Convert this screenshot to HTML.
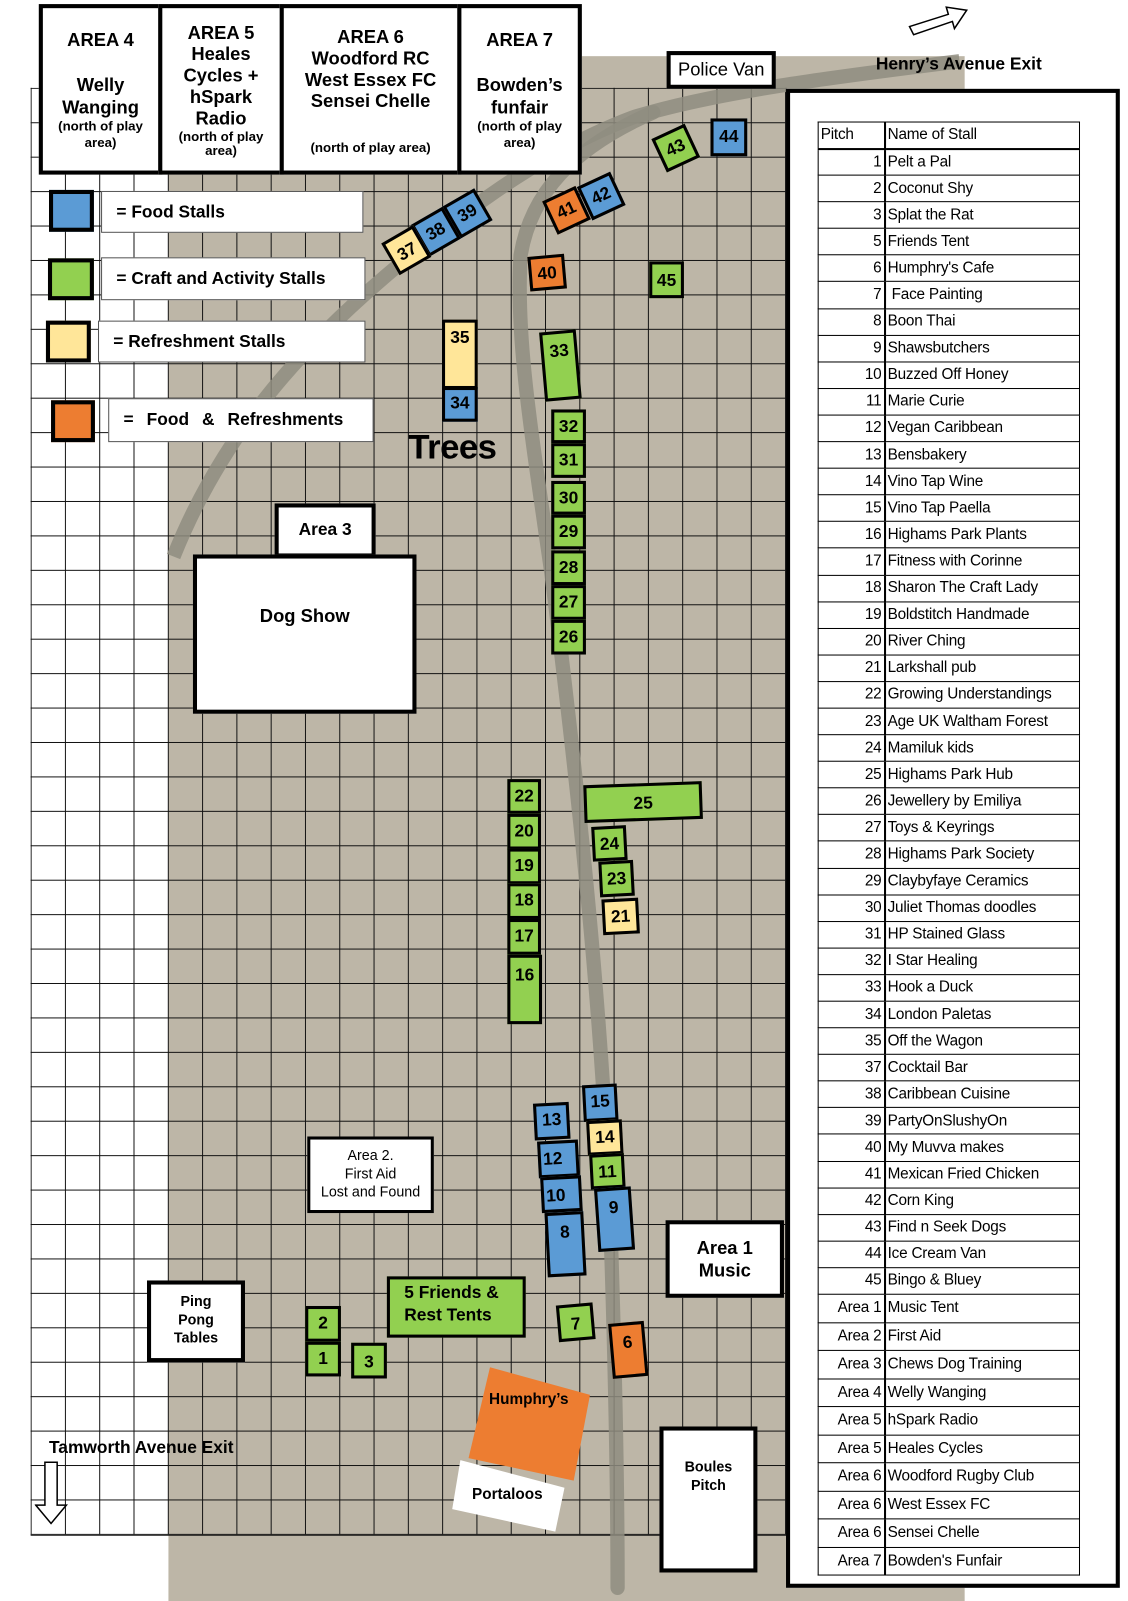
<!DOCTYPE html>
<html><head><meta charset="utf-8"><style>
*{margin:0;padding:0;box-sizing:border-box}
html,body{width:1128px;height:1601px;overflow:hidden;background:#fff}
#w{position:absolute;left:0;top:0;width:1105px;height:1568px;transform-origin:0 0;transform:scale(1.0208,1.0211);font-family:"Liberation Sans",sans-serif}
.a{position:absolute}
.bx{position:absolute;background:#fff;border:4px solid #000;text-align:center;font-weight:bold;color:#000}
.s{position:absolute;border:3px solid #000;font-weight:bold;font-size:17px;text-align:center;line-height:22px;color:#000}
.B{background:#5b9bd5}.G{background:#92d050}.Y{background:#ffe699}.O{background:#ed7d31}
.lg{position:absolute;background:#fff;border:1px solid #555;font-weight:bold;font-size:17px;padding-left:14px;line-height:40px}
.sq{position:absolute;border:4px solid #000}
table{border-collapse:collapse;position:absolute;left:801px;top:119px;width:257px;font-size:15px;letter-spacing:-0.2px}
td{border:1px solid #000;height:26.1px;padding:0 2px;white-space:nowrap;line-height:20px}
td:first-child{width:65px;text-align:right;border-right:2px solid #000}
tr.h td{border-bottom:2px solid #000;text-align:left;height:26px}
tr.ar td{height:27.5px}
</style></head><body><div id="w">
<div class="a" style="left:165px;top:55px;width:780px;height:1513px;background:#bdb6a7"></div>
<div class="a" style="left:30px;top:86px;width:741px;height:1418px;background-image:linear-gradient(to right,#111 1px,transparent 1px),linear-gradient(to bottom,#111 1px,transparent 1px);background-size:33.6px 33.73px;border-right:1px solid #111;border-bottom:1px solid #111"></div>
<svg class="a" style="left:0;top:0" width="1105" height="1568">
<path d="M940 60 C820 75 700 90 620 115 C540 145 470 195 390 260 C300 335 220 420 170 545" stroke="#8f8d80" stroke-width="14" fill="none" opacity="0.85"/>
<path d="M640 110 C560 145 520 190 510 250 C505 330 520 420 540 560 C570 800 590 1000 598 1200 C603 1350 605 1450 605 1555" stroke="#8f8d80" stroke-width="14" fill="none" stroke-linecap="round" opacity="0.85"/>
</svg>

<div class="bx" style="left:38px;top:4px;width:121px;height:167px;font-size:18px;padding-top:20px;line-height:22px">AREA 4<br><br>Welly<br>Wanging<br><span style="font-size:13px;line-height:16px;display:block">(north of play area)</span></div>
<div class="bx" style="left:155px;top:4px;width:123px;height:167px;font-size:18px;padding-top:14px;line-height:21px;overflow:hidden">AREA 5<br>Heales<br>Cycles +<br>hSpark<br>Radio<br><span style="font-size:13px;line-height:14px;display:block">(north of play area)</span></div>
<div class="bx" style="left:274px;top:4px;width:178px;height:167px;font-size:18px;padding-top:18px;line-height:21px">AREA 6<br>Woodford RC<br>West Essex FC<br>Sensei Chelle<br><span style="font-size:13px;display:block;margin-top:24px">(north of play area)</span></div>
<div class="bx" style="left:448px;top:4px;width:122px;height:167px;font-size:18px;padding-top:20px;line-height:22px">AREA 7<br><br>Bowden’s<br>funfair<br><span style="font-size:13px;line-height:16px;display:block">(north of play area)</span></div>

<div class="sq B" style="left:48px;top:186px;width:44px;height:41px"></div>
<div class="sq G" style="left:47px;top:253px;width:45px;height:41px"></div>
<div class="sq Y" style="left:45px;top:314px;width:44px;height:41px"></div>
<div class="sq O" style="left:50px;top:392px;width:43px;height:41px"></div>
<div class="lg" style="left:99px;top:187px;width:257px;height:41px">= Food Stalls</div>
<div class="lg" style="left:99px;top:252px;width:259px;height:42px">= Craft and Activity Stalls</div>
<div class="lg" style="left:96px;top:314px;width:262px;height:41px">= Refreshment Stalls</div>
<div class="lg" style="left:106px;top:390px;width:260px;height:43px;word-spacing:8px">= Food &amp; Refreshments</div>

<div class="bx" style="left:653px;top:50px;width:107px;height:37px;font-size:18px;font-weight:normal;line-height:29px">Police Van</div>
<div class="a" style="left:858px;top:53px;font-weight:bold;font-size:17px">Henry’s Avenue Exit</div>
<svg class="a" style="left:885px;top:2px" width="70" height="40"><path d="M6 24 L44 12 L42 5 L62 8 L50 26 L48 19 L10 32 Z" fill="#fff" stroke="#000" stroke-width="1.5"/></svg>

<div class="a" style="left:770px;top:87px;width:327px;height:1468px;border:4px solid #000;background:#fff"></div>
<table>
<tr class="h"><td style="text-align:left">Pitch</td><td>Name of Stall</td></tr>
<tr><td>1</td><td>Pelt a Pal</td></tr><tr><td>2</td><td>Coconut Shy</td></tr><tr><td>3</td><td>Splat the Rat</td></tr><tr><td>5</td><td>Friends Tent</td></tr><tr><td>6</td><td>Humphry's Cafe</td></tr><tr><td>7</td><td>&nbsp;Face Painting</td></tr><tr><td>8</td><td>Boon Thai</td></tr><tr><td>9</td><td>Shawsbutchers</td></tr><tr><td>10</td><td>Buzzed Off Honey</td></tr><tr><td>11</td><td>Marie Curie</td></tr><tr><td>12</td><td>Vegan Caribbean</td></tr><tr><td>13</td><td>Bensbakery</td></tr><tr><td>14</td><td>Vino Tap Wine</td></tr><tr><td>15</td><td>Vino Tap Paella</td></tr><tr><td>16</td><td>Highams Park Plants</td></tr><tr><td>17</td><td>Fitness with Corinne</td></tr><tr><td>18</td><td>Sharon The Craft Lady</td></tr><tr><td>19</td><td>Boldstitch Handmade</td></tr><tr><td>20</td><td>River Ching</td></tr><tr><td>21</td><td>Larkshall pub</td></tr><tr><td>22</td><td>Growing Understandings</td></tr><tr><td>23</td><td>Age UK Waltham Forest</td></tr><tr><td>24</td><td>Mamiluk kids</td></tr><tr><td>25</td><td>Highams Park Hub</td></tr><tr><td>26</td><td>Jewellery by Emiliya</td></tr><tr><td>27</td><td>Toys &amp; Keyrings</td></tr><tr><td>28</td><td>Highams Park Society</td></tr><tr><td>29</td><td>Claybyfaye Ceramics</td></tr><tr><td>30</td><td>Juliet Thomas doodles</td></tr><tr><td>31</td><td>HP Stained Glass</td></tr><tr><td>32</td><td>I Star Healing</td></tr><tr><td>33</td><td>Hook a Duck</td></tr><tr><td>34</td><td>London Paletas</td></tr><tr><td>35</td><td>Off the Wagon</td></tr><tr><td>37</td><td>Cocktail Bar</td></tr><tr><td>38</td><td>Caribbean Cuisine</td></tr><tr><td>39</td><td>PartyOnSlushyOn</td></tr><tr><td>40</td><td>My Muvva makes</td></tr><tr><td>41</td><td>Mexican Fried Chicken</td></tr><tr><td>42</td><td>Corn King</td></tr><tr><td>43</td><td>Find n Seek Dogs</td></tr><tr><td>44</td><td>Ice Cream Van</td></tr><tr><td>45</td><td>Bingo &amp; Bluey</td></tr>
<tr class="ar"><td>Area 1</td><td>Music Tent</td></tr><tr class="ar"><td>Area 2</td><td>First Aid</td></tr><tr class="ar"><td>Area 3</td><td>Chews Dog Training</td></tr><tr class="ar"><td>Area 4</td><td>Welly Wanging</td></tr><tr class="ar"><td>Area 5</td><td>hSpark Radio</td></tr><tr class="ar"><td>Area 5</td><td>Heales Cycles</td></tr><tr class="ar"><td>Area 6</td><td>Woodford Rugby Club</td></tr><tr class="ar"><td>Area 6</td><td>West Essex FC</td></tr><tr class="ar"><td>Area 6</td><td>Sensei Chelle</td></tr><tr class="ar"><td>Area 7</td><td>Bowden's Funfair</td></tr>
</table>

<div class="s B" style="left:696px;top:116px;width:36px;height:37px;padding-top:4px">44</div>
<div class="s G" style="left:644px;top:127px;width:36px;height:36px;padding-top:4px;transform:rotate(-25deg)">43</div>
<div class="s B" style="left:571px;top:174px;width:36px;height:36px;padding-top:4px;transform:rotate(-25deg)">42</div>
<div class="s O" style="left:537px;top:188px;width:36px;height:36px;padding-top:4px;transform:rotate(-25deg)">41</div>
<div class="s B" style="left:440px;top:191px;width:36px;height:36px;padding-top:4px;transform:rotate(-30deg)">39</div>
<div class="s B" style="left:409px;top:209px;width:36px;height:36px;padding-top:4px;transform:rotate(-30deg)">38</div>
<div class="s Y" style="left:380px;top:227px;width:36px;height:36px;padding-top:6px;transform:rotate(-30deg)">37</div>
<div class="s O" style="left:518px;top:250px;width:36px;height:34px;padding-top:4px;transform:rotate(-5deg)">40</div>
<div class="s G" style="left:636px;top:256px;width:34px;height:36px;padding-top:5px">45</div>
<div class="s Y" style="left:433px;top:313px;width:35px;height:68px;padding-top:4px">35</div>
<div class="s B" style="left:433px;top:379px;width:35px;height:34px;padding-top:2px">34</div>
<div class="s G" style="left:531px;top:324px;width:36px;height:68px;padding-top:6px;transform:rotate(-5deg)">33</div>
<div class="s G" style="left:540px;top:401px;width:34px;height:33px;padding-top:3px">32</div>
<div class="s G" style="left:540px;top:434px;width:34px;height:34px;padding-top:3px">31</div>
<div class="s G" style="left:540px;top:471px;width:34px;height:33px;padding-top:3px">30</div>
<div class="s G" style="left:540px;top:504px;width:34px;height:34px;padding-top:3px">29</div>
<div class="s G" style="left:540px;top:539px;width:34px;height:34px;padding-top:3px">28</div>
<div class="s G" style="left:540px;top:573px;width:34px;height:34px;padding-top:3px">27</div>
<div class="s G" style="left:540px;top:607px;width:34px;height:34px;padding-top:3px">26</div>
<div class="a" style="left:400px;top:419px;font-size:34px;font-weight:bold;letter-spacing:-0.5px">Trees</div>

<div class="bx" style="left:269px;top:493px;width:99px;height:53px;line-height:44px;font-size:17px">Area 3</div>
<div class="bx" style="left:189px;top:543px;width:219px;height:156px;font-size:18px;padding-top:46px">Dog Show</div>

<div class="s G" style="left:497px;top:763px;width:33px;height:34px;padding-top:3px">22</div>
<div class="s G" style="left:497px;top:797px;width:33px;height:35px;padding-top:3px">20</div>
<div class="s G" style="left:497px;top:831px;width:33px;height:35px;padding-top:3px">19</div>
<div class="s G" style="left:497px;top:865px;width:33px;height:35px;padding-top:3px">18</div>
<div class="s G" style="left:497px;top:900px;width:33px;height:35px;padding-top:3px">17</div>
<div class="s G" style="left:497px;top:935px;width:34px;height:68px;padding-top:6px">16</div>
<div class="s G" style="left:572px;top:767px;width:116px;height:37px;padding-top:6px;transform:rotate(-2deg)">25</div>
<div class="s G" style="left:580px;top:809px;width:34px;height:34px;padding-top:4px;transform:rotate(-3deg)">24</div>
<div class="s G" style="left:587px;top:843px;width:34px;height:35px;padding-top:4px;transform:rotate(-3deg)">23</div>
<div class="s Y" style="left:590px;top:880px;width:36px;height:35px;padding-top:4px;transform:rotate(-3deg)">21</div>

<div class="s B" style="left:523px;top:1080px;width:35px;height:36px;padding-top:3px;transform:rotate(-3deg)">13</div>
<div class="s B" style="left:571px;top:1062px;width:34px;height:36px;padding-top:3px;transform:rotate(-3deg)">15</div>
<div class="s Y" style="left:575px;top:1097px;width:35px;height:34px;padding-top:3px;transform:rotate(-3deg)">14</div>
<div class="s B" style="left:527px;top:1117px;width:40px;height:36px;padding-top:4px;text-align:left;padding-left:2px;transform:rotate(-3deg)">12</div>
<div class="s G" style="left:578px;top:1130px;width:34px;height:34px;padding-top:4px;transform:rotate(-3deg)">11</div>
<div class="s B" style="left:530px;top:1152px;width:40px;height:35px;padding-top:5px;text-align:left;padding-left:2px;transform:rotate(-3deg)">10</div>
<div class="s B" style="left:584px;top:1163px;width:36px;height:62px;padding-top:6px;transform:rotate(-4deg)">9</div>
<div class="s B" style="left:535px;top:1187px;width:38px;height:63px;padding-top:6px;transform:rotate(-3deg)">8</div>

<div class="bx" style="left:301px;top:1113px;width:124px;height:75px;font-size:14px;font-weight:normal;line-height:18px;padding-top:6px;border-width:3px">Area 2.<br>First Aid<br>Lost and Found</div>
<div class="bx" style="left:652px;top:1195px;width:116px;height:76px;font-size:18px;line-height:22px;padding-top:12px">Area 1<br>Music</div>
<div class="bx" style="left:144px;top:1254px;width:96px;height:80px;font-size:14px;line-height:18px;padding-top:7px">Ping<br>Pong<br>Tables</div>

<div class="s G" style="left:299px;top:1279px;width:35px;height:35px;padding-top:3px">2</div>
<div class="s G" style="left:299px;top:1314px;width:35px;height:34px;padding-top:3px">1</div>
<div class="s G" style="left:344px;top:1315px;width:35px;height:35px;padding-top:5px">3</div>
<div class="s G" style="left:379px;top:1250px;width:136px;height:60px;text-align:left;padding-left:14px;padding-top:2px;font-size:17px;line-height:22px">5 Friends &amp;<br>Rest Tents</div>
<div class="s G" style="left:546px;top:1277px;width:36px;height:36px;padding-top:6px;transform:rotate(-5deg)">7</div>
<div class="s O" style="left:598px;top:1295px;width:35px;height:54px;padding-top:6px;transform:rotate(-5deg)">6</div>

<svg class="a" style="left:0;top:0" width="1105" height="1568">
<polygon points="480,1339 578,1366 562,1450 459,1428" fill="#ed7d31"/>
<polygon points="451,1430 553,1457 544,1500 443,1478" fill="#fff"/>
</svg>
<div class="a" style="left:462px;top:1362px;width:112px;text-align:center;font-weight:bold;font-size:15px">Humphry’s</div>
<div class="a" style="left:445px;top:1455px;width:104px;text-align:center;font-weight:bold;font-size:15px">Portaloos</div>

<div class="bx" style="left:646px;top:1397px;width:96px;height:143px;font-size:14px;line-height:18px;padding-top:26px">Boules<br>Pitch</div>
<div class="a" style="left:48px;top:1408px;font-weight:bold;font-size:17px">Tamworth Avenue Exit</div>
<svg class="a" style="left:34px;top:1430px" width="40" height="66"><path d="M10 2 L22 2 L22 44 L31 44 L16 62 L1 44 L10 44 Z" fill="#fff" stroke="#000" stroke-width="1.5"/></svg>
</div></body></html>
